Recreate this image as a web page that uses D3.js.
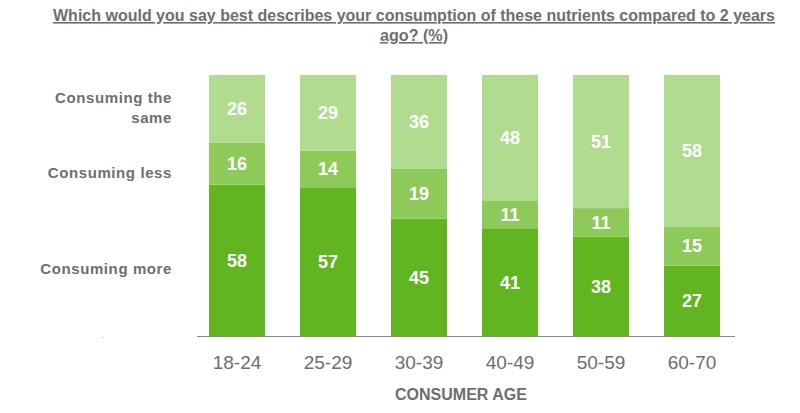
<!DOCTYPE html>
<html>
<head>
<meta charset="utf-8">
<script src="https://cdn.jsdelivr.net/npm/d3@7"></script>
<style>
  body { margin: 0; background: #fff; }
  text { font-family: "Liberation Sans", Arial, sans-serif; }
</style>
</head>
<body>
<div id="vis"></div>
<script>
'use strict';

//data
var ages = ['18-24', '25-29', '30-39', '40-49', '50-59', '60-70'];
var more = [58, 57, 45, 41, 38, 27];
var less = [16, 14, 19, 11, 11, 15];
var same = [26, 29, 36, 48, 51, 58];
var seriesKeys = ['more', 'less', 'same'];
var seriesLabels = [['Consuming more'], ['Consuming less'], ['Consuming the', 'same']];
var seriesColors = ['#60b520', '#8dca5a', '#b1dc8f'];

//layout
var W = 800, H = 413;
var svg = d3.select('#vis').append('svg').attr('width', W).attr('height', H);

var x = d3.scaleBand().domain(ages).range([191.5, 737.5])
    .paddingInner(35 / 91).paddingOuter(35 / 182);
var y = d3.scaleLinear().domain([0, 100]).range([336, 75]);

var rows = ages.map(function (a, i) {
    return { age: a, more: more[i], less: less[i], same: same[i] };
});
var stack = d3.stack().keys(seriesKeys)(rows);

//bars
stack.forEach(function (layer, k) {
    var g = svg.append('g');
    g.selectAll('rect')
        .data(layer)
        .enter()
        .append('rect')
        .attr('x', function (d) { return x(d.data.age); })
        .attr('y', function (d) { return y(d[1]); })
        .attr('width', x.bandwidth())
        .attr('height', function (d) { return y(d[0]) - y(d[1]); })
        .style('fill', seriesColors[k]);
    g.selectAll('text')
        .data(layer)
        .enter()
        .append('text')
        .attr('x', function (d) { return x(d.data.age) + x.bandwidth() / 2; })
        .attr('y', function (d) { return (y(d[0]) + y(d[1])) / 2; })
        .attr('dy', '0.36em')
        .attr('text-anchor', 'middle')
        .style('font-size', '18px')
        .style('font-weight', 'bold')
        .style('fill', '#fff')
        .text(function (d) { return d[1] - d[0]; });
});

//axis line
svg.append('line')
    .attr('x1', 197).attr('x2', 735)
    .attr('y1', y(0) + 0.5).attr('y2', y(0) + 0.5)
    .style('stroke', '#8a8a8a').style('stroke-width', 1.2);

//x tick labels
svg.selectAll('.tick-label')
    .data(ages)
    .enter()
    .append('text')
    .attr('class', 'tick-label')
    .attr('x', function (d) { return x(d) + x.bandwidth() / 2; })
    .attr('y', 369)
    .attr('text-anchor', 'middle')
    .style('font-size', '19px')
    .style('fill', '#6e6e6e')
    .text(function (d) { return d; });

svg.append('text')
    .attr('x', 461).attr('y', 400)
    .attr('text-anchor', 'middle')
    .style('font-size', '16px')
    .style('font-weight', 'bold')
    .style('fill', '#6e6e6e')
    .text('CONSUMER AGE');

//series labels on the left, at fixed value levels
var labelLevels = [25.7, 62.5, 87.7];
seriesLabels.forEach(function (lines, k) {
    var t = svg.append('text')
        .attr('text-anchor', 'end')
        .style('font-size', '15px')
        .style('font-weight', 'bold')
        .style('letter-spacing', '0.6px')
        .style('fill', '#6e6e6e');
    var y0 = y(labelLevels[k]) - (lines.length - 1) * 10;
    lines.forEach(function (ln, j) {
        t.append('tspan')
            .attr('x', 172)
            .attr('y', y0 + j * 20)
            .attr('dy', '0.36em')
            .text(ln);
    });
});

svg.append('text')
    .attr('x', 103).attr('y', 338)
    .attr('text-anchor', 'middle')
    .style('font-size', '8px')
    .style('fill', '#888')
    .text('.');

//title
svg.append('text')
    .attr('x', 53).attr('y', 21)
    .attr('textLength', 722)
    .attr('lengthAdjust', 'spacingAndGlyphs')
    .style('font-size', '16px')
    .style('font-weight', 'bold')
    .style('fill', '#6e6e6e')
    .style('text-decoration', 'underline')
    .text('Which would you say best describes your consumption of these nutrients compared to 2 years');
svg.append('text')
    .attr('x', 380).attr('y', 41)
    .attr('textLength', 68)
    .attr('lengthAdjust', 'spacingAndGlyphs')
    .style('font-size', '16px')
    .style('font-weight', 'bold')
    .style('fill', '#6e6e6e')
    .style('text-decoration', 'underline')
    .text('ago? (%)');
</script>
</body>
</html>
